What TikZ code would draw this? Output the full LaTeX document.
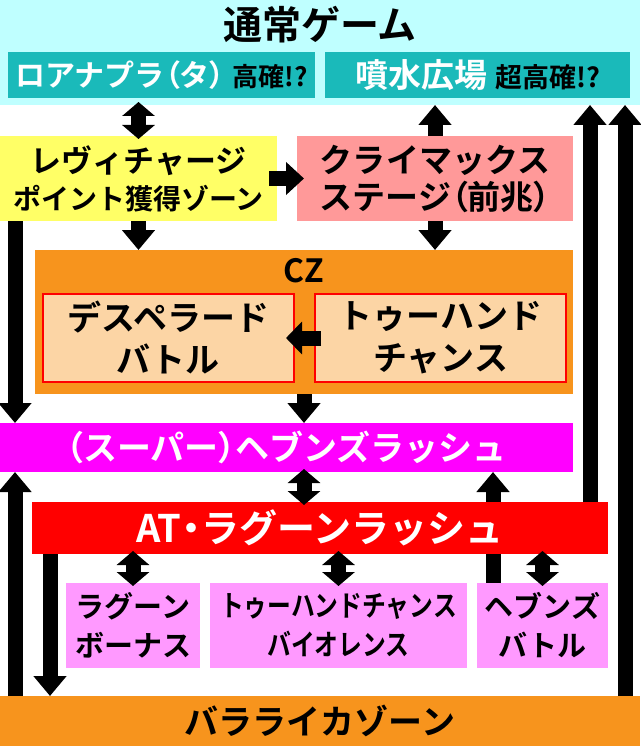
\documentclass[tikz,border=0pt]{standalone}
\usepackage{fontspec}
\setmainfont{Noto Sans CJK JP Bold}
\newfontfamily\narrowjp{Noto Sans CJK JP Bold}[FakeStretch=0.82]
\newfontfamily\paltjp{Noto Sans CJK JP Bold}[RawFeature=+palt]
\usetikzlibrary{arrows.meta,positioning,backgrounds}
\definecolor{normbg}{RGB}{191,255,255}
\definecolor{zoneteal}{RGB}{26,186,186}
\definecolor{levyellow}{RGB}{255,255,102}
\definecolor{climaxpink}{RGB}{255,153,153}
\definecolor{czorange}{RGB}{247,148,29}
\definecolor{czpeach}{RGB}{252,213,165}
\definecolor{rushmag}{RGB}{255,0,255}
\definecolor{subpink}{RGB}{255,153,255}
\newcommand{\jpsize}[2]{\fontsize{#1pt}{#2pt}\selectfont}
\newcommand{\lpar}{{\paltjp （}}
\newcommand{\rpar}{{\paltjp ）}}

\begin{document}
\begin{tikzpicture}[x=1pt, y=-1pt,
  box/.style={inner sep=0pt, outer sep=0pt, align=center},
  arr/.style={-{Triangle[width=32pt,length=20pt]}, line width=15pt},
  dbl/.style={{Triangle[width=32pt,length=14pt]}-{Triangle[width=32pt,length=14pt]},
              line width=15pt, shorten <=-3pt, shorten >=-3pt}
]
\useasboundingbox (0,0) rectangle (640,746);
% normal game area
\node[box, fill=normbg, minimum width=640pt, minimum height=105pt] (normal) at (320,52.5) {};
\node[box, font=\jpsize{39}{42}] (title) at (320,25) {通常ゲーム};
\node[box, fill=zoneteal, minimum width=307pt, minimum height=46pt, font=\jpsize{30}{34}] (roana) at (161.5,75)
  {\textcolor{white}{ロアナプラ\lpar タ\rpar}\hspace{8pt}{\jpsize{26}{30}高確!?}};
\node[box, fill=zoneteal, minimum width=305pt, minimum height=46pt, font=\jpsize{33}{36}] (fountain) at (477.5,75)
  {\textcolor{white}{噴水広場}\hspace{8pt}{\jpsize{27}{30}超高確!?}};

% zones
\node[box, fill=levyellow, minimum width=277pt, minimum height=85pt, font=\jpsize{28}{37}] (yellow) at (138.5,178.5)
  {{\jpsize{31}{37}レヴィチャージ}\\ポイント獲得ゾーン};
\node[box, fill=climaxpink, minimum width=276pt, minimum height=85pt, font=\jpsize{33}{37}] (pink) at (435,178.5)
  {クライマックス\\ステージ\lpar 前兆\rpar};

% CZ
\node[box, fill=czorange, minimum width=538pt, minimum height=144pt] (cz) at (304,322) {};
\node[box, font=\jpsize{32}{34}] (czlabel) at (304,271) {CZ};
\node[box, fill=czpeach, draw=red, line width=1.5pt, minimum width=251pt, minimum height=88pt, font=\jpsize{34}{42}] (desperado) at (168.5,338)
  {デスペラード\\バトル};
\node[box, fill=czpeach, draw=red, line width=1.5pt, minimum width=251pt, minimum height=88pt, font=\jpsize{34}{42}] (twohand) at (440.5,338)
  {トゥーハンド\\チャンス};

% rush
\node[box, fill=rushmag, text=white, minimum width=573pt, minimum height=49pt, font=\jpsize{34}{36}] (rush) at (286.5,447.5)
  {\lpar スーパー\rpar ヘブンズラッシュ};
\node[box, fill=red, text=white, minimum width=576pt, minimum height=52pt, font=\jpsize{38}{40}] (at) at (320,528)
  {AT\hspace{-9pt}・\hspace{-9pt}ラグーンラッシュ};

% AT parts
\node[box, fill=subpink, minimum width=134pt, minimum height=85pt, font=\jpsize{29}{39}] (sub1) at (133,625.5)
  {ラグーン\\ボーナス};
\node[box, fill=subpink, minimum width=257pt, minimum height=85pt, font=\jpsize{29}{39}] (sub2) at (338.5,625.5)
  {\narrowjp トゥーハンドチャンス\\\narrowjp バイオレンス};
\node[box, fill=subpink, minimum width=131pt, minimum height=85pt, font=\jpsize{29}{39}] (sub3) at (542.5,625.5)
  {ヘブンズ\\バトル};

\node[box, fill=czorange, minimum width=640pt, minimum height=50pt, font=\jpsize{34}{36}] (bottom) at (320,721)
  {バラライカゾーン};

% connectors
\draw[dbl] (normal.south -| yellow.north) -- (yellow.north);
\draw[arr] (pink.north) -- (pink.north |- normal.south);
\draw[arr, -{Triangle[width=32pt,length=18pt]}, shorten <=-8pt, shorten >=-7pt] (yellow.east |- pink.west) -- (pink.west);
\draw[arr] (yellow.south) -- (yellow.south |- cz.north);
\draw[arr] (pink.south) -- (pink.south |- cz.north);
\draw[arr] ([xshift=15pt]yellow.south west) -- ([xshift=15pt]yellow.south west |- rush.north);
\draw[arr, -{Triangle[width=32pt,length=16pt]}, shorten <=-6pt, shorten >=-8pt] (twohand.west) -- (desperado.east);
\draw[arr] (cz.south) -- (cz.south |- rush.north);
\draw[dbl] (cz.south |- rush.south) -- (cz.south |- at.north);
\draw[dbl] (sub1.north |- at.south) -- (sub1.north);
\draw[dbl] (sub2.north |- at.south) -- (sub2.north);
\draw[dbl] (sub3.north |- at.south) -- (sub3.north);
\begin{scope}[on background layer]
\draw[arr] ([xshift=16pt]sub3.north west) -- ([xshift=16pt]sub3.north west |- rush.south);
\end{scope}
\draw[arr] ([xshift=18pt]at.south west) -- ([xshift=18pt]at.south west |- bottom.north);
\draw[arr] ([xshift=15pt]bottom.north west) -- ([xshift=15pt]bottom.north west |- rush.south);
\draw[arr] ([xshift=-18pt]at.north east) -- ([xshift=-18pt]at.north east |- normal.south);
\draw[arr] ([xshift=-15pt]bottom.north east) -- ([xshift=-15pt]bottom.north east |- normal.south);
\end{tikzpicture}
\end{document}
